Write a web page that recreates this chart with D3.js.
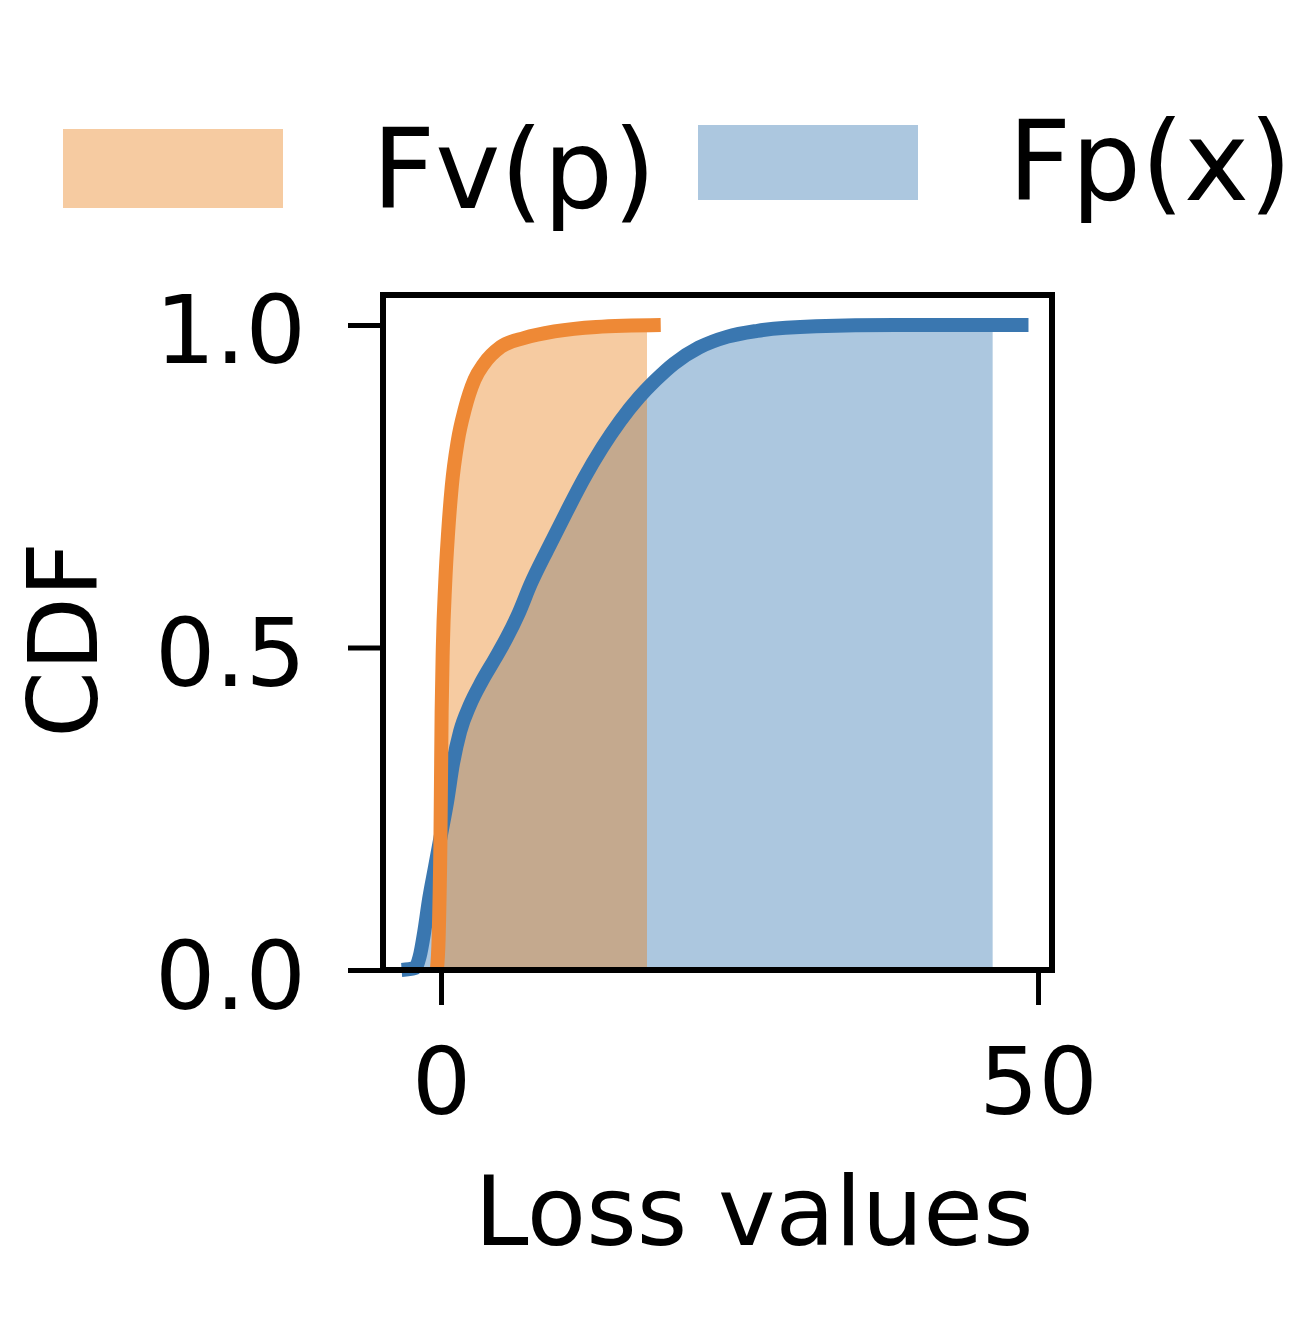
<!DOCTYPE html>
<html>
<head>
<meta charset="utf-8">
<script src="https://cdn.jsdelivr.net/npm/d3@7"></script>
<style>
  body { margin: 0; background: #fff; }
  text { font-family: "DejaVu Sans", sans-serif; fill: #000; }
</style>
</head>
<body>
<div id="chart"></div>
<script>
// Fv(p) curve (orange)
var fvX = [-0.35, -0.2, -0.05, 0.05, 0.15, 0.35, 0.6, 0.9, 1.4, 2.0, 2.8, 3.6, 5.0, 7.0, 9.5, 13, 18.4]
var fvY = [0, 0.05, 0.2, 0.4, 0.5, 0.6, 0.68, 0.75, 0.82, 0.87, 0.915, 0.94, 0.966, 0.98, 0.99, 0.997, 1.0]

// Fp(x) curve (blue)
var fpX = [-3.3, -2.2, -1.8, -1.4, -1.0, -0.5, 0, 0.5, 1.0, 1.6, 2.4, 3.4, 4.5, 5.5, 6.5, 7.5, 9, 10.5, 12, 13.5, 15, 16.6, 18, 19.5, 21.6, 24, 26.5, 31.4, 38, 49.2]
var fpY = [0, 0.003, 0.02, 0.06, 0.11, 0.16, 0.21, 0.26, 0.32, 0.37, 0.41, 0.447, 0.482, 0.515, 0.553, 0.598, 0.655, 0.71, 0.763, 0.81, 0.851, 0.888, 0.915, 0.94, 0.965, 0.982, 0.991, 0.998, 1.0, 1.0]

// shaded region ends (x value where the fill stops)
var fillEnds = [17.25, 46.2]

var legendLabels = ["Fv(p)", "Fp(x)"]
var xTicks = [0, 50]
var yTicks = [0, 0.5, 1.0]

var width = 1302, height = 1323
var box = { left: 383, right: 1052, top: 295, bottom: 970 }

var svg = d3.select("#chart")
    .append("svg")
    .attr("width", width)
    .attr("height", height)

var x = d3.scaleLinear()
    .domain([-4.86, 51.17])
    .range([box.left, box.right])

var y = d3.scaleLinear()
    .domain([0, 1.0465])
    .range([box.bottom, box.top])

var fv = fvX.map((d, i) => ({ x: d, y: fvY[i] }))
var fp = fpX.map((d, i) => ({ x: d, y: fpY[i] }))

var area = d3.area()
    .x(d => x(d.x))
    .y0(y(0))
    .y1(d => y(d.y))
    .curve(d3.curveMonotoneX)

var line = d3.line()
    .x(d => x(d.x))
    .y(d => y(d.y))
    .curve(d3.curveMonotoneX)

// clip each fill at its end value
var defs = svg.append("defs")
defs.append("clipPath").attr("id", "clipFv")
    .append("rect")
    .attr("x", 0).attr("y", 0)
    .attr("width", x(fillEnds[0])).attr("height", height)
defs.append("clipPath").attr("id", "clipFp")
    .append("rect")
    .attr("x", 0).attr("y", 0)
    .attr("width", x(fillEnds[1])).attr("height", height)

svg.append("path")
    .datum(fp)
    .attr("d", area)
    .attr("clip-path", "url(#clipFp)")
    .style("fill", "rgb(48,115,175)")
    .style("fill-opacity", 0.4)

svg.append("path")
    .datum(fv)
    .attr("d", area)
    .attr("clip-path", "url(#clipFv)")
    .style("fill", "rgb(232,124,21)")
    .style("fill-opacity", 0.4)

svg.append("path")
    .datum(fp)
    .attr("d", line)
    .style("fill", "none")
    .style("stroke", "#3a77b0")
    .style("stroke-width", 14)

svg.append("path")
    .datum(fv)
    .attr("d", line)
    .style("fill", "none")
    .style("stroke", "#ee8936")
    .style("stroke-width", 14)

// axes
var xAxis = svg.append("g")
    .attr("transform", `translate(0,${box.bottom})`)
    .call(d3.axisBottom(x).tickValues(xTicks).tickSize(35).tickPadding(36).tickFormat(d3.format("d")))

var yAxis = svg.append("g")
    .attr("transform", `translate(${box.left},0)`)
    .call(d3.axisLeft(y).tickValues(yTicks).tickSize(35).tickPadding(42).tickFormat(d3.format(".1f")))

svg.selectAll(".domain").remove()
svg.selectAll(".tick line").style("stroke", "#000").style("stroke-width", 5)
xAxis.selectAll("text").style("font-size", "93px").attr("dy", "0.78em")
yAxis.selectAll("text").style("font-size", "95px").attr("dy", "0.4em")

// frame
svg.append("rect")
    .attr("x", box.left)
    .attr("y", box.top)
    .attr("width", box.right - box.left)
    .attr("height", box.bottom - box.top)
    .style("fill", "none")
    .style("stroke", "#000")
    .style("stroke-width", 6)

svg.append("text")
    .attr("x", 754)
    .attr("y", 1245)
    .attr("text-anchor", "middle")
    .style("font-size", "97px")
    .text("Loss values")

svg.append("text")
    .attr("transform", "translate(97,640) rotate(-90)")
    .attr("text-anchor", "middle")
    .style("font-size", "96px")
    .text("CDF")

// legend
var legendColors = ["rgb(232,124,21)", "rgb(48,115,175)"]
var legendPos = [
    { px: 63, py: 129, ph: 79, tx: 372, ty: 208 },
    { px: 698, py: 125, ph: 75, tx: 1008, ty: 200 }
]

var leg = svg.selectAll(".legend")
    .data(legendLabels)
    .enter()
    .append("g")
    .attr("class", "legend")

leg.append("rect")
    .attr("x", (d, i) => legendPos[i].px)
    .attr("y", (d, i) => legendPos[i].py)
    .attr("width", 220)
    .attr("height", (d, i) => legendPos[i].ph)
    .style("fill", (d, i) => legendColors[i])
    .style("fill-opacity", 0.4)

leg.append("text")
    .attr("x", (d, i) => legendPos[i].tx)
    .attr("y", (d, i) => legendPos[i].ty)
    .style("font-size", "110px")
    .text(d => d)
</script>
</body>
</html>
